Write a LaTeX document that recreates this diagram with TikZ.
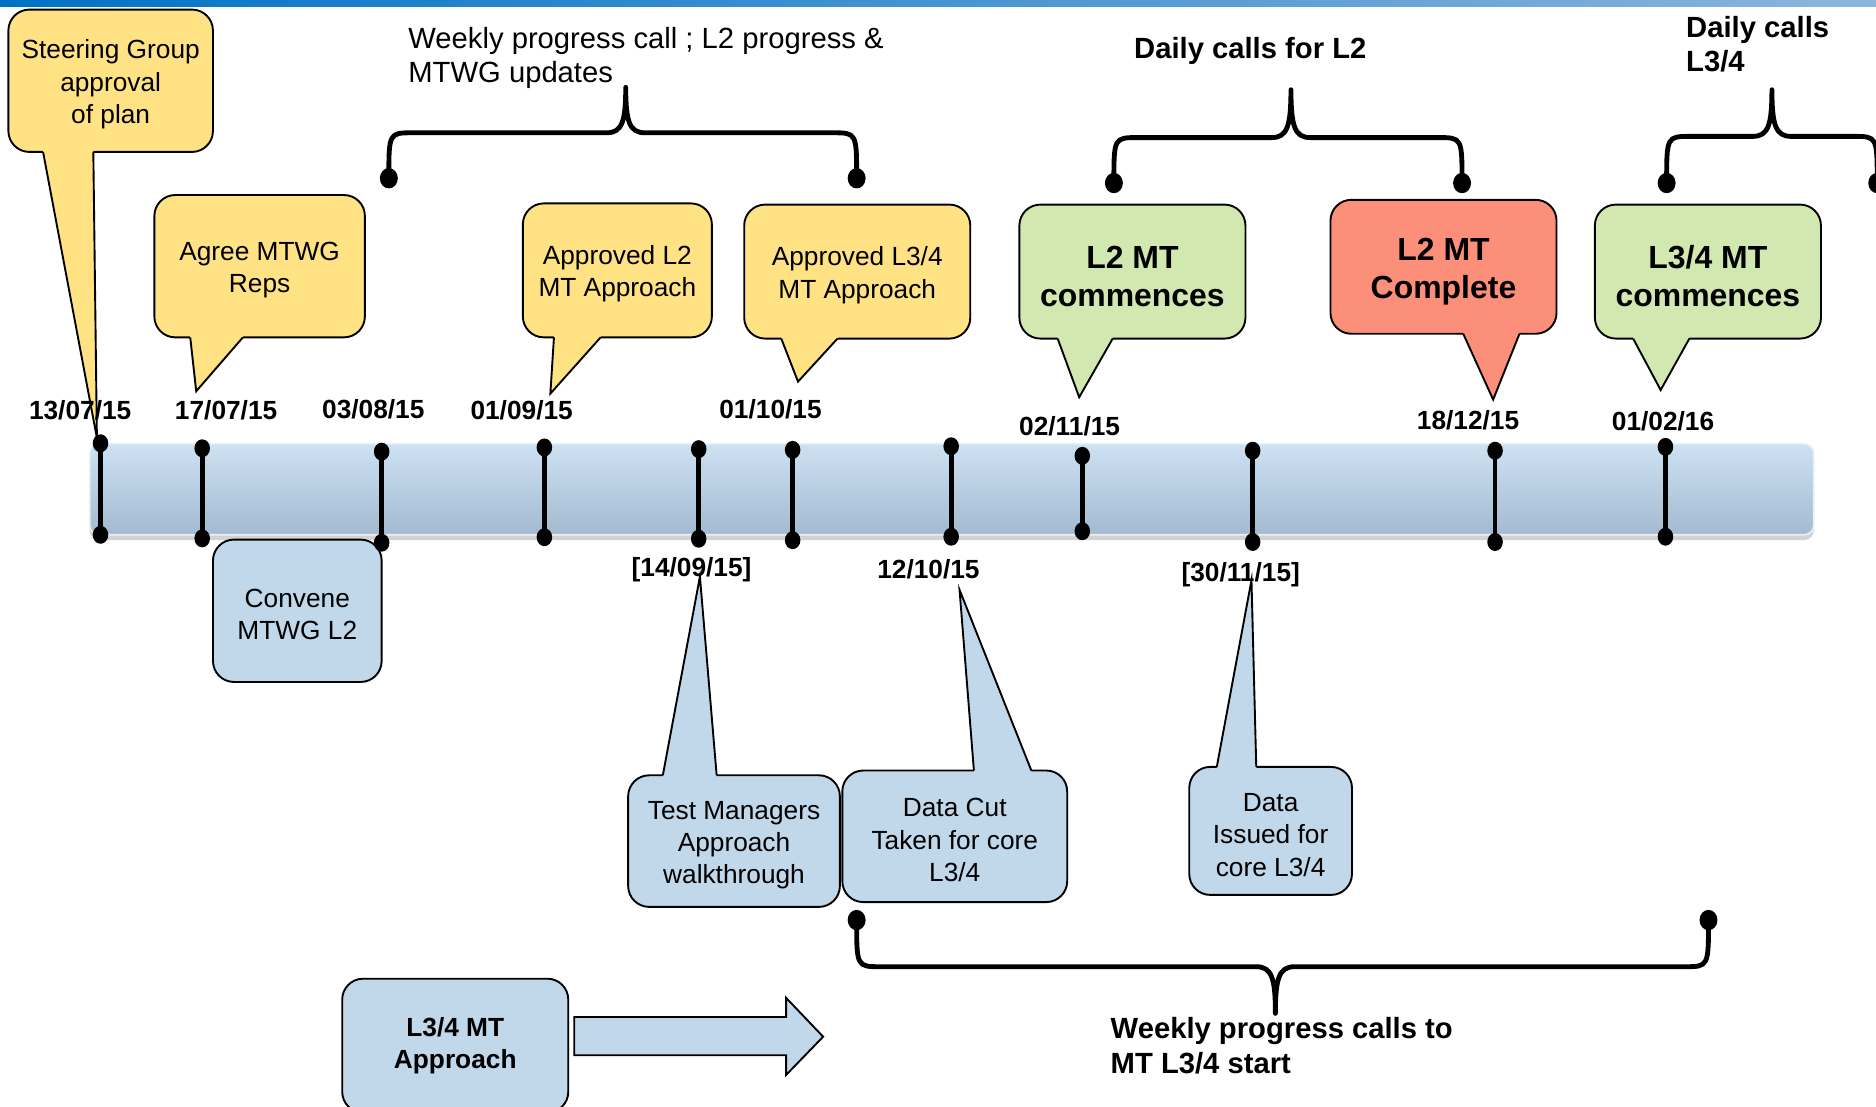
\documentclass[tikz,border=0pt]{standalone}
\usepackage{fontspec}
\setmainfont{Liberation Sans}
\usetikzlibrary{calc,shadows}

\definecolor{noteyellow}{RGB}{255,226,131}
\definecolor{notegreen}{RGB}{209,232,177}
\definecolor{notered}{RGB}{252,143,122}
\definecolor{noteblue}{RGB}{192,216,234}
\definecolor{barlight}{RGB}{205,225,242}
\definecolor{bardark}{RGB}{163,186,208}
\definecolor{stripL}{RGB}{0,114,198}
\definecolor{stripR}{RGB}{140,182,220}

\newcommand{\txtnormal}{\fontsize{12.5}{15.4}\selectfont}
\newcommand{\txtbig}{\fontsize{15.2}{18.2}\selectfont\bfseries}
\newcommand{\txthead}{\fontsize{13.9}{16.4}\selectfont}
% taller first line, sets the note text a little lower
\newcommand{\hi}{\rule{0pt}{1em}}

\tikzstyle{note}=[draw, line width=0.9pt, rounded corners=0.35cm, align=center, inner sep=0pt, font=\txtnormal]
\tikzstyle{date}=[font=\txtnormal\bfseries, inner sep=0pt]
\tikzstyle{tickline}=[line width=2.3pt]
\tikzstyle{brace}=[line width=2.3pt, line cap=round, line join=round]
\tikzstyle{bar}=[top color=barlight, bottom color=bardark, draw=barlight!50!white, line width=0.8pt, rounded corners=0.16cm,
  drop shadow={shadow xshift=0pt, shadow yshift=-2.5pt, opacity=0.35}]

% tail of a note: colour, left base, tip, right base, shift into the note
\newcommand{\notetail}[5]{%
  \fill[#1] #2 -- #3 -- #4 -- ($#4+(0,#5)$) -- ($#2+(0,#5)$) -- cycle;
  \draw[line width=0.9pt, line join=miter] #2 -- #3 -- #4;}

% curly brace: left x, right x, dot y, bar y, peak x, peak y
\newcommand{\callbrace}[6]{%
  \draw[brace] (#1,#3) .. controls (#1,#4) .. ({#1+20},#4) -- ({#5-16},#4)
    .. controls ({#5-3},#4) and (#5,{#4+0.25*(#6-#4)}) .. (#5,#6)
    .. controls (#5,{#4+0.25*(#6-#4)}) and ({#5+3},#4) .. ({#5+16},#4)
    -- ({#2-20},#4) .. controls (#2,#4) .. (#2,#3);
  \fill (#1,#3) ellipse [x radius=0.15cm, y radius=0.17cm];
  \fill (#2,#3) ellipse [x radius=0.15cm, y radius=0.17cm];}

\begin{document}
\begin{tikzpicture}[x=0.02cm, y=-0.02cm]
	\clip (0,0) rectangle (1568,925);
	\fill[white] (0,0) rectangle (1568,925);
	\shade[left color=stripL, right color=stripR] (0,0) rectangle (1568,5.5);

	% call braces
	\callbrace{325}{716}{149}{111}{523}{73}
	\callbrace{931}{1222}{153}{115}{1079}{75}
	\callbrace{1393}{1569}{153}{114}{1481}{75}
	\callbrace{716}{1428}{769}{808}{1066}{847}
	\node[anchor=west, align=left, font=\txthead, inner sep=0pt] (weeklyL2) at (341,48.5) {Weekly progress call ; L2 progress \&\\MTWG updates};
	\node[font=\txthead\bfseries, inner sep=0pt] (dailyL2) at (1045,43) {Daily calls for L2};
	\node[anchor=west, align=left, font=\txthead\bfseries, inner sep=0pt] (dailyL34) at (1409,37) {Daily calls\\L3/4};
	\node[anchor=west, align=left, font=\txthead\bfseries, inner sep=0pt] (weeklyL34) at (928,874) {Weekly progress calls to\\MT L3/4 start};

	% timeline
	\path[bar] (75,371) rectangle (1516,447);

	% notes above
	\node[note, fill=noteyellow, minimum width=3.42cm, minimum height=2.38cm] (steer) at (92.5,67.5) {\hi Steering Group\\approval\\of plan};
	\notetail{noteyellow}{(36,127)}{(81,366)}{(78,127)}{-3}
	\node[note, fill=noteyellow, minimum width=3.52cm, minimum height=2.38cm] (agree) at (217,222.5) {\hi Agree MTWG\\Reps};
	\notetail{noteyellow}{(159,282)}{(164,327)}{(203,282)}{-3}
	\node[note, fill=noteyellow, minimum width=3.16cm, minimum height=2.24cm] (apprL2) at (516,226) {\hi Approved L2\\MT Approach};
	\notetail{noteyellow}{(463,282)}{(460,329)}{(502,282)}{-3}
	\node[note, fill=noteyellow, minimum width=3.78cm, minimum height=2.24cm] (apprL34) at (716.5,227) {\hi Approved L3/4\\MT Approach};
	\notetail{noteyellow}{(653,283)}{(667,319)}{(700,283)}{-3}
	\node[note, fill=notegreen, font=\txtbig, minimum width=3.78cm, minimum height=2.24cm] (startL2) at (946.5,227) {\hi L2 MT\\commences};
	\notetail{notegreen}{(884,283)}{(902,332)}{(930,283)}{-3}
	\node[note, fill=notered, font=\txtbig, minimum width=3.78cm, minimum height=2.24cm] (doneL2) at (1206.5,223) {\hi L2 MT\\Complete};
	\notetail{notered}{(1223,279)}{(1248,334)}{(1270,279)}{-3}
	\node[note, fill=notegreen, font=\txtbig, minimum width=3.78cm, minimum height=2.24cm] (startL34) at (1427.5,227) {\hi L3/4 MT\\commences};
	\notetail{notegreen}{(1365,283)}{(1388,326)}{(1412,283)}{-3}

	% notes below
	\node[note, fill=noteblue, minimum width=2.82cm, minimum height=2.38cm] (convene) at (248.5,510.5) {\hi Convene\\MTWG L2};
	\node[note, fill=noteblue, minimum width=3.54cm, minimum height=2.2cm] (testmgr) at (613.5,703) {\hi Test Managers\\Approach\\walkthrough};
	\notetail{noteblue}{(554,648)}{(585,482)}{(599,648)}{3}
	\node[note, fill=noteblue, minimum width=3.76cm, minimum height=2.2cm] (datacut) at (798,699) {\hi Data Cut\\Taken for core\\L3/4};
	\notetail{noteblue}{(814,644)}{(802,493)}{(862,644)}{3}
	\node[note, fill=noteblue, minimum width=2.72cm, minimum height=2.14cm] (dataiss) at (1062,694.5) {\hi Data\\Issued for\\core L3/4};
	\notetail{noteblue}{(1017,641)}{(1046,485)}{(1050,641)}{3}
	\node[note, fill=noteblue, font=\txtnormal\bfseries, minimum width=3.78cm, minimum height=2.24cm] (apprL34b) at (380.5,874) {L3/4 MT\\Approach};
	\draw[line width=0.9pt, fill=noteblue] (480,850) -- (657,850) -- (657,834) -- (688,866.5) -- (657,898.5) -- (657,882) -- (480,882) -- cycle;

	% dates
	\node[date] (d1) at (67,343) {13/07/15};
	\node[date] (d2) at (189,343) {17/07/15};
	\node[date] (d3) at (312,342) {03/08/15};
	\node[date] (d4) at (436,343) {01/09/15};
	\node[date] (d5) at (578,476) {[14/09/15]};
	\node[date] (d6) at (644,342) {01/10/15};
	\node[date] (d7) at (776,476) {12/10/15};
	\node[date] (d8) at (894,356) {02/11/15};
	\node[date] (d9) at (1037,480.5) {[30/11/15]};
	\node[date] (d10) at (1227,351) {18/12/15};
	\node[date] (d11) at (1390,352.5) {01/02/16};

	% ticks
	\foreach \x/\a/\b in {84/370.5/447, 169/374.7/450, 319/377.5/453.6, 455/374/449, 584/375.4/450.3, 662.5/376/451.5,
	  795/373/448.6, 904.6/381/444, 1047/376.7/453, 1249.6/376.7/453, 1392/373.5/448.6}
	{
		\draw[tickline] (\x,\a) -- (\x,\b);
		\fill (\x,\a) ellipse [x radius=0.13cm, y radius=0.15cm];
		\fill (\x,\b) ellipse [x radius=0.13cm, y radius=0.15cm];
	}
\end{tikzpicture}
\end{document}
